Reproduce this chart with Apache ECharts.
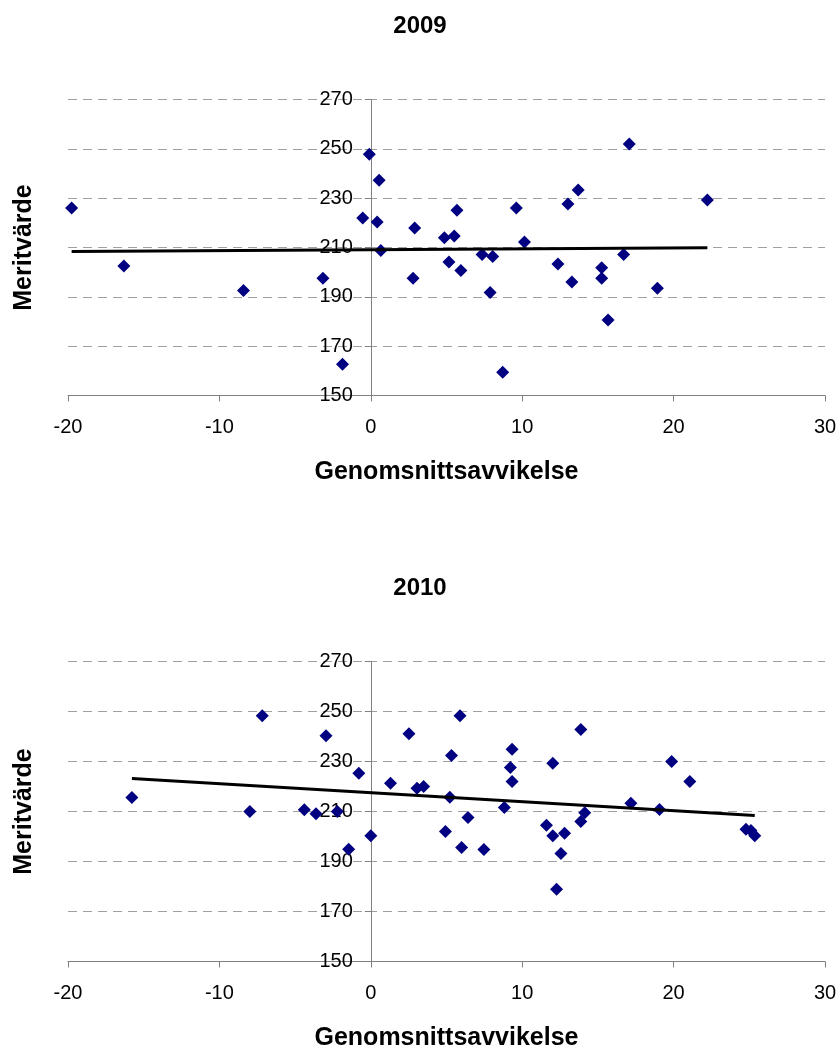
<!DOCTYPE html>
<html>
<head>
<meta charset="utf-8">
<title>Meritvärde och genomsnittsavvikelse 2009 och 2010</title>
<script src="https://cdn.jsdelivr.net/npm/echarts@6/dist/echarts.min.js"></script>
<style>
  html, body { margin: 0; padding: 0; background: #ffffff; }
  #chart { width: 840px; height: 1050px; }
</style>
</head>
<body>
<div id="chart"></div>
<script>
// Years shown, one panel each
const years = ['2009', '2010'];

// 2009: genomsnittsavvikelse (x) and meritvärde (y) per school
const x2009 = [-19.76, -16.31, -8.41, -3.16, -1.87, -0.53, -0.1, 0.55, 0.42, 0.66,
  2.90, 2.79, 4.86, 5.51, 5.69, 5.16, 5.95, 7.35, 8.05, 7.88,
  8.71, 9.61, 10.15, 12.36, 13.02, 13.70, 13.28, 15.25, 15.25, 15.67,
  16.70, 17.07, 18.93, 22.23];
const y2009 = [226.0, 202.5, 192.6, 197.5, 162.7, 222.0, 247.8, 237.3, 220.3, 208.8,
  217.9, 197.5, 214.0, 214.7, 225.1, 204.1, 200.7, 207.2, 206.4, 191.8,
  159.4, 226.0, 212.2, 203.3, 227.6, 233.3, 196.0, 201.8, 197.5, 180.6,
  207.2, 252.0, 193.5, 229.3];

// 2010
const x2010 = [-15.78, -7.99, -7.17, -4.39, -3.62, -2.96, -2.21, -1.46, -0.79, 0.0,
  1.30, 2.52, 3.05, 3.49, 5.22, 5.33, 5.89, 4.93, 6.42, 6.00,
  7.47, 8.82, 9.33, 9.22, 9.33, 11.60, 12.02, 12.02, 12.80, 12.56,
  12.27, 13.87, 13.87, 14.13, 17.18, 19.07, 19.87, 21.07, 24.78, 25.11,
  25.36];
const y2010 = [215.6, 210.0, 248.3, 210.7, 209.1, 240.3, 210.0, 194.9, 225.3, 200.3,
  221.3, 241.1, 219.3, 220.0, 215.7, 232.4, 248.3, 202.0, 207.6, 195.6,
  194.8, 211.6, 234.9, 227.6, 222.0, 204.5, 229.3, 200.3, 201.3, 193.2,
  178.9, 242.8, 206.0, 209.5, 213.3, 210.8, 230.0, 222.0, 202.9, 202.4,
  200.3];

// Axis ranges and tick steps
const xTicks = [-20, -10, 0, 10, 20, 30];
const yTicks = [150, 170, 190, 210, 230, 250, 270];

const xTitle = 'Genomsnittsavvikelse';
const yTitle = 'Meritvärde';

const FONT = '"Liberation Sans", Arial, sans-serif';

const CHART_W = 840;
const GRID_LEFT = 68;
const GRID_RIGHT = 15;

function pairs(xs, ys) {
  return xs.map((x, i) => [x, ys[i]]);
}

// Least-squares linear trend, drawn across the span of the data
function trend(xs, ys) {
  const n = xs.length;
  let sx = 0, sy = 0, sxx = 0, sxy = 0;
  for (let i = 0; i < n; i++) {
    sx += xs[i]; sy += ys[i];
    sxx += xs[i] * xs[i]; sxy += xs[i] * ys[i];
  }
  const b = (n * sxy - sx * sy) / (n * sxx - sx * sx);
  const a = (sy - b * sx) / n;
  const lo = Math.min(...xs), hi = Math.max(...xs);
  return [[lo, a + b * lo], [hi, a + b * hi]];
}

const grids = [
  { left: GRID_LEFT, right: GRID_RIGHT, top: 99.5, height: 296, containLabel: false, outerBoundsMode: 'none' },
  { left: GRID_LEFT, right: GRID_RIGHT, top: 661.5, height: 300, containLabel: false, outerBoundsMode: 'none' }
];

// The vertical axis crosses the horizontal one at x = 0
const xMin = xTicks[0], xMax = xTicks[xTicks.length - 1];
const gridW = CHART_W - GRID_LEFT - GRID_RIGHT;
const yAxisShift = -gridW * (0 - xMin) / (xMax - xMin);

function xAxisFor(i) {
  return {
    type: 'value', gridIndex: i,
    min: xMin, max: xMax, interval: xTicks[1] - xTicks[0],
    name: xTitle, nameLocation: 'middle', nameGap: 64,
    nameTextStyle: { fontFamily: FONT, fontSize: 25, fontWeight: 'bold', color: '#000' },
    axisLine: { onZero: false, lineStyle: { color: '#808080', width: 1 } },
    axisTick: { show: true, inside: false, length: 6, lineStyle: { color: '#808080' } },
    axisLabel: { fontFamily: FONT, fontSize: 20, color: '#000', margin: 22 },
    splitLine: { show: false }
  };
}

function yAxisFor(i) {
  return {
    type: 'value', gridIndex: i, position: 'left', offset: yAxisShift,
    min: yTicks[0], max: yTicks[yTicks.length - 1], interval: yTicks[1] - yTicks[0],
    name: yTitle, nameLocation: 'middle', nameGap: 334, nameRotate: 90,
    nameTextStyle: { fontFamily: FONT, fontSize: 25, fontWeight: 'bold', color: '#000' },
    axisLine: { show: true, onZero: false, lineStyle: { color: '#808080', width: 1 } },
    axisTick: { show: true, inside: false, length: 6, lineStyle: { color: '#808080' } },
    axisLabel: { fontFamily: FONT, fontSize: 20, color: '#000', margin: 18 },
    splitLine: { show: true, lineStyle: { color: '#a0a0a0', width: 1.2, type: [9, 6] } }
  };
}

const datasets = [[x2009, y2009], [x2010, y2010]];

const series = [];
datasets.forEach(([xs, ys], i) => {
  series.push({
    type: 'scatter', xAxisIndex: i, yAxisIndex: i,
    data: pairs(xs, ys),
    symbol: 'diamond', symbolSize: 13,
    itemStyle: { color: '#000080', opacity: 1 },
    z: 3
  });
  series.push({
    type: 'line', xAxisIndex: i, yAxisIndex: i,
    data: trend(xs, ys),
    showSymbol: false, symbol: 'none',
    lineStyle: { color: '#000000', width: 3 },
    silent: true,
    z: 4
  });
});

const chart = echarts.init(document.getElementById('chart'), null, { renderer: 'canvas' });
chart.setOption({
  animation: false,
  backgroundColor: '#ffffff',
  title: [
    { text: years[0], left: 'center', top: 14, padding: 0,
      textStyle: { fontFamily: FONT, fontSize: 24, fontWeight: 'bold', color: '#000' } },
    { text: years[1], left: 'center', top: 576, padding: 0,
      textStyle: { fontFamily: FONT, fontSize: 24, fontWeight: 'bold', color: '#000' } }
  ],
  grid: grids,
  xAxis: [xAxisFor(0), xAxisFor(1)],
  yAxis: [yAxisFor(0), yAxisFor(1)],
  series: series
});
</script>
</body>
</html>
